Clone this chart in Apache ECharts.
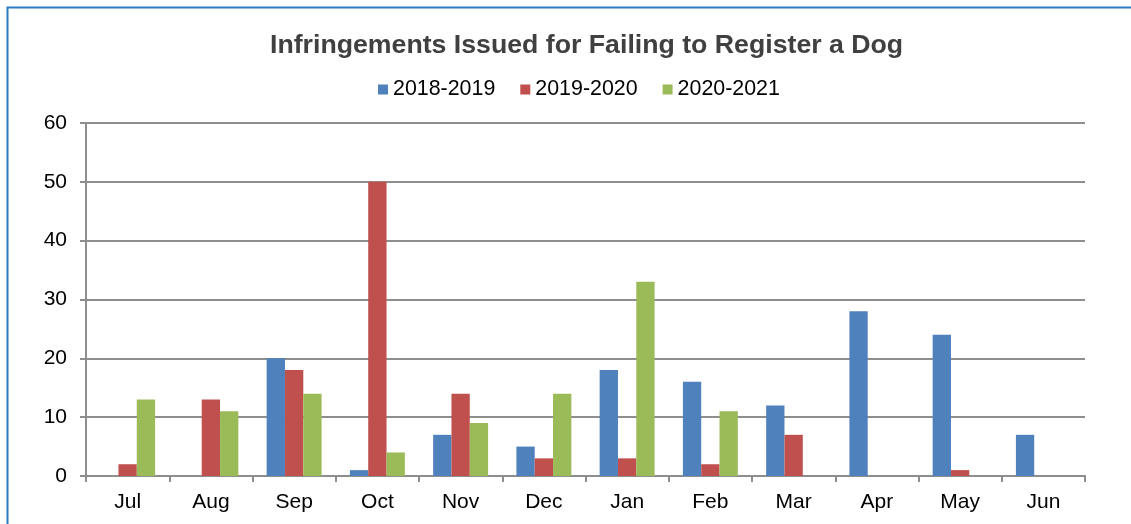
<!DOCTYPE html>
<html>
<head>
<meta charset="utf-8">
<script src="https://cdn.jsdelivr.net/npm/echarts@6/dist/echarts.min.js"></script>
<style>
  html, body { margin: 0; padding: 0; background: #fff; }
  #chart { width: 1131px; height: 524px; }
</style>
</head>
<body>
<div id="chart"></div>
<script>
// Monthly infringements, financial year July–June
const months = ['Jul', 'Aug', 'Sep', 'Oct', 'Nov', 'Dec', 'Jan', 'Feb', 'Mar', 'Apr', 'May', 'Jun'];
const fy2018_2019 = [0, 0, 20, 1, 7, 5, 18, 16, 12, 28, 24, 7];
const fy2019_2020 = [2, 13, 18, 50, 14, 3, 3, 2, 7, 0, 1, 0];
const fy2020_2021 = [13, 11, 14, 4, 9, 14, 33, 11, null, null, null, null];
const seriesNames = ['2018-2019', '2019-2020', '2020-2021'];
const yTicks = [0, 10, 20, 30, 40, 50, 60];

const colors = ['#4F81BD', '#C0504D', '#9BBB59'];
const gridGray = '#8e8e8e';
const font = 'Liberation Sans, Arial, sans-serif';

const chart = echarts.init(document.getElementById('chart'), null, { renderer: 'canvas' });

function barSeries(name, data, color) {
  return {
    name: name,
    type: 'bar',
    data: data,
    barGap: '0%',
    barCategoryGap: '34%',
    itemStyle: { color: color }
  };
}

chart.setOption({
  animation: false,
  color: colors,
  graphic: [{
    type: 'rect',
    left: 5, top: 5,
    shape: { x: 0, y: 0, width: 1140, height: 540 },
    style: { fill: 'none', stroke: '#2a7bc6', lineWidth: 2 },
    silent: true
  }],
  title: {
    text: 'Infringements Issued for Failing to Register a Dog',
    left: 270,
    top: 32,
    padding: 0,
    textStyle: { fontFamily: font, fontSize: 26.7, fontWeight: 'bold', color: '#404040' }
  },
  legend: {
    data: seriesNames,
    top: 79,
    left: 378,
    padding: 0,
    itemWidth: 10,
    itemHeight: 10,
    itemGap: 25,
    icon: 'rect',
    textStyle: { fontFamily: font, fontSize: 21.4, color: '#000' }
  },
  grid: { left: 86, right: 46, top: 123, bottom: 48, containLabel: false },
  xAxis: {
    type: 'category',
    data: months,
    axisLine: { lineStyle: { color: gridGray, width: 2 } },
    axisTick: { show: true, length: 6, alignWithLabel: false, lineStyle: { color: gridGray, width: 2 } },
    axisLabel: { fontFamily: font, fontSize: 21, color: '#000', margin: 16 }
  },
  yAxis: {
    type: 'value',
    min: yTicks[0],
    max: yTicks[yTicks.length - 1],
    interval: 10,
    axisLine: { show: true, lineStyle: { color: gridGray, width: 2 } },
    axisTick: { show: true, length: 6, lineStyle: { color: gridGray, width: 2 } },
    axisLabel: { fontFamily: font, fontSize: 21, color: '#000', margin: 19 },
    splitLine: { lineStyle: { color: gridGray, width: 2 } }
  },
  series: [
    barSeries(seriesNames[0], fy2018_2019, colors[0]),
    barSeries(seriesNames[1], fy2019_2020, colors[1]),
    barSeries(seriesNames[2], fy2020_2021, colors[2])
  ]
});
</script>
</body>
</html>
